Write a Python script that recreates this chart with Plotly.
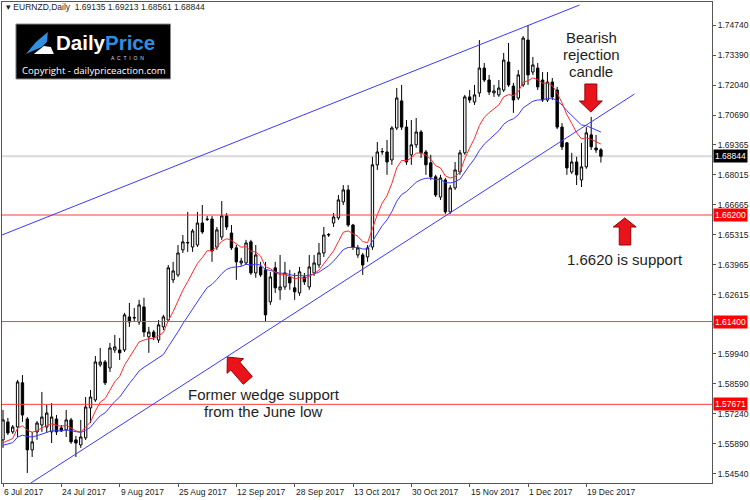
import plotly.graph_objects as go

# ---------------- data (EURNZD daily) ----------------
bars = list(range(124))
opens = [1.5607,1.5688,1.5643,1.5665,1.5864,1.5701,1.5562,1.5643,1.5674,1.5665,
         1.5643,1.5701,1.5661,1.5652,1.5697,1.5607,1.5584,1.5616,1.5751,1.5787,
         1.5945,1.5958,1.5931,1.6012,1.6012,1.6012,1.6161,1.6156,1.6138,1.6206,
         1.6071,1.6093,1.6057,1.6116,1.6147,1.6328,1.6350,1.6463,1.6494,1.6476,
         1.6485,1.6584,1.6602,1.6602,1.6476,1.6521,1.6616,1.6539,1.6472,1.6404,
         1.6404,1.6499,1.6359,1.6386,1.6373,1.6229,1.6382,1.6283,1.6296,1.6341,
         1.6292,1.6269,1.6341,1.6296,1.6359,1.6395,1.6449,1.6530,1.6584,1.6607,
         1.6679,1.6733,1.6575,1.6440,1.6440,1.6431,1.6476,1.6846,1.6904,1.6904,
         1.6868,1.7012,1.7134,1.7016,1.6891,1.6936,1.6994,1.6904,1.6855,1.6792,
         1.6701,1.6778,1.6634,1.6742,1.6814,1.6900,1.7152,1.7129,1.7170,1.7282,
         1.7228,1.7170,1.7161,1.7183,1.7309,1.7201,1.7147,1.7206,1.7408,1.7264,
         1.7282,1.7228,1.7138,1.7219,1.7183,1.7016,1.6945,1.6814,1.6859,1.6778,
         1.6837,1.6981,1.6922,1.69135]
highs = [1.5742,1.5706,1.5674,1.5877,1.5899,1.5710,1.5643,1.5692,1.5823,1.5764,
         1.5773,1.5719,1.5674,1.5742,1.5706,1.5625,1.5697,1.5800,1.5832,1.5985,
         1.6021,1.5967,1.6044,1.6080,1.6066,1.6179,1.6224,1.6201,1.6238,1.6247,
         1.6116,1.6102,1.6147,1.6170,1.6395,1.6409,1.6485,1.6530,1.6634,1.6557,
         1.6634,1.6665,1.6616,1.6616,1.6566,1.6683,1.6629,1.6575,1.6485,1.6427,
         1.6508,1.6508,1.6485,1.6409,1.6409,1.6364,1.6409,1.6440,1.6409,1.6373,
         1.6359,1.6386,1.6359,1.6440,1.6440,1.6494,1.6566,1.6539,1.6629,1.6710,
         1.6755,1.6755,1.6580,1.6485,1.6449,1.6485,1.6882,1.6949,1.6922,1.6958,
         1.7020,1.7192,1.7206,1.7048,1.7048,1.7057,1.7003,1.6913,1.6891,1.6801,
         1.6801,1.6787,1.6755,1.6859,1.6913,1.7161,1.7183,1.7206,1.7408,1.7305,
         1.7251,1.7206,1.7228,1.7350,1.7395,1.7215,1.7273,1.7426,1.7476,1.7332,
         1.7305,1.7264,1.7264,1.7237,1.7197,1.7034,1.6949,1.6900,1.6882,1.6945,
         1.7016,1.7062,1.6981,1.69213]
lows = [1.5571,1.5629,1.5634,1.5620,1.5688,1.5458,1.5530,1.5607,1.5643,1.5638,
        1.5593,1.5629,1.5643,1.5620,1.5589,1.5530,1.5571,1.5607,1.5683,1.5778,
        1.5936,1.5854,1.5913,1.5999,1.5967,1.6003,1.6116,1.6138,1.6125,1.6071,
        1.5999,1.6057,1.6044,1.6102,1.6138,1.6314,1.6341,1.6449,1.6454,1.6454,
        1.6476,1.6535,1.6593,1.6409,1.6463,1.6508,1.6553,1.6463,1.6328,1.6391,
        1.6395,1.6350,1.6337,1.6341,1.6138,1.6215,1.6269,1.6238,1.6283,1.6283,
        1.6238,1.6256,1.6305,1.6283,1.6346,1.6382,1.6431,1.6521,1.6566,1.6598,
        1.6665,1.6566,1.6463,1.6427,1.6350,1.6409,1.6463,1.6823,1.6891,1.6801,
        1.6846,1.7003,1.7003,1.6846,1.6846,1.6922,1.6877,1.6801,1.6778,1.6701,
        1.6688,1.6625,1.6625,1.6733,1.6801,1.6891,1.7125,1.7116,1.7152,1.7219,
        1.7161,1.7152,1.7152,1.7174,1.7197,1.7080,1.7138,1.7197,1.7206,1.7251,
        1.7183,1.7129,1.7129,1.7138,1.7007,1.6913,1.6801,1.6805,1.6755,1.6746,
        1.6828,1.6913,1.6900,1.68561]
closes = [1.5697,1.5638,1.5665,1.5868,1.5719,1.5562,1.5598,1.5683,1.5710,1.5728,
          1.5710,1.5643,1.5647,1.5697,1.5598,1.5593,1.5620,1.5755,1.5800,1.5958,
          1.5958,1.5864,1.6021,1.6026,1.5999,1.6170,1.6138,1.6158,1.6215,1.6093,
          1.6093,1.6071,1.6125,1.6161,1.6382,1.6368,1.6449,1.6499,1.6496,1.6548,
          1.6584,1.6544,1.6600,1.6458,1.6553,1.6616,1.6566,1.6472,1.6409,1.6413,
          1.6494,1.6359,1.6440,1.6350,1.6170,1.6341,1.6292,1.6296,1.6359,1.6314,
          1.6274,1.6364,1.6319,1.6386,1.6404,1.6449,1.6530,1.6532,1.6611,1.6688,
          1.6733,1.6575,1.6476,1.6472,1.6395,1.6472,1.6846,1.6904,1.6906,1.6859,
          1.7012,1.7147,1.7016,1.6859,1.6936,1.6994,1.6900,1.6846,1.6792,1.6710,
          1.6787,1.6634,1.6742,1.6823,1.6900,1.7152,1.7138,1.7161,1.7282,1.7228,
          1.7174,1.7179,1.7192,1.7318,1.7206,1.7138,1.7251,1.7417,1.7251,1.7296,
          1.7197,1.7138,1.7219,1.7152,1.7016,1.6927,1.6832,1.6859,1.6801,1.6837,
          1.6990,1.6927,1.6913,1.68844]

date_tick_bars = [0, 12, 24, 36, 48, 60, 72, 84, 96, 108, 120]
date_tick_labels = ["6 Jul 2017", "24 Jul 2017", "9 Aug 2017", "25 Aug 2017", "12 Sep 2017",
                    "28 Sep 2017", "13 Oct 2017", "30 Oct 2017", "15 Nov 2017", "1 Dec 2017",
                    "19 Dec 2017"]
price_ticks = [1.74740, 1.73390, 1.72040, 1.70690, 1.69365, 1.68015, 1.66665, 1.65315,
               1.63965, 1.62615, 1.61265, 1.59940, 1.58590, 1.57240, 1.55890, 1.54540]
hidden_ticks = [1.61265]   # covered by the 1.61400 level box

support_levels = [1.66200, 1.61400, 1.57671]
last_price = 1.68844
ema_fast_period, ema_slow_period = 10, 21
ema_seed = 1.5571          # indicator level at the left edge of the chart

# wedge trend lines (bar index, price)
upper_line = ([-0.2, 118.6], [1.6530, 1.7566])
lower_line = ([5.74, 129.9], [1.5413, 1.7165])


def ema(values, period, seed):
    k = 2.0 / (period + 1)
    out, prev = [], seed
    for v in values:
        prev = prev + k * (v - prev)
        out.append(prev)
    return out


ema_fast = ema(closes, ema_fast_period, ema_seed)
ema_slow = ema(closes, ema_slow_period, ema_seed)

# ---------------- figure ----------------
W, H = 750, 500
ML, MR, MT, MB = 1, 37, 2, 17
PW, PH = W - ML - MR, H - MT - MB


def px(x, y):
    """page pixel -> paper fraction (for decorations only)"""
    return (x - ML) / PW, 1 - (y - MT) / PH


def path_from(points):
    pts = [px(x, y) for x, y in points]
    return "M " + " L ".join(f"{a:.5f},{b:.5f}" for a, b in pts) + " Z"


FONT = "Liberation Sans"
fig = go.Figure()

fig.add_trace(go.Candlestick(
    x=bars, open=opens, high=highs, low=lows, close=closes,
    increasing=dict(line=dict(color="black", width=1), fillcolor="white"),
    decreasing=dict(line=dict(color="black", width=1), fillcolor="black"),
    whiskerwidth=0, showlegend=False, hoverinfo="skip"))

fig.add_trace(go.Scatter(x=bars, y=ema_slow, mode="lines",
                         line=dict(color="#3a3aff", width=1), showlegend=False, hoverinfo="skip"))
fig.add_trace(go.Scatter(x=bars, y=ema_fast, mode="lines",
                         line=dict(color="#ff2a2a", width=1), showlegend=False, hoverinfo="skip"))

shapes = []
# current price line
shapes.append(dict(type="line", xref="paper", x0=0, x1=1, yref="y", y0=last_price, y1=last_price,
                   line=dict(color="#d9d9d9", width=2), layer="below"))
# support lines
for lv in support_levels:
    shapes.append(dict(type="line", xref="paper", x0=0, x1=1, yref="y", y0=lv, y1=lv,
                       line=dict(color="#ff3c3c", width=1)))
# trend lines
for xs, ys in (upper_line, lower_line):
    shapes.append(dict(type="line", xref="x", yref="y", x0=xs[0], x1=xs[1], y0=ys[0], y1=ys[1],
                       line=dict(color="#3a3aff", width=1)))

# red block arrows
arrow_style = dict(type="path", xref="paper", yref="paper", fillcolor="#e8131b",
                   line=dict(color="#9a0000", width=1))
down_arrow = [(585.5, 84), (597.5, 84), (597.5, 101), (603, 101), (591.5, 112), (580, 101), (585.5, 101)]
up_arrow = [(620, 245), (631.5, 245), (631.5, 227), (637, 227), (625.5, 218), (614, 227), (620, 227)]
diag_arrow = [(252, 376.5), (239.4, 362), (243.2, 358.7), (227, 357), (226.7, 373.3),
              (230.4, 370), (243, 384.3)]
for pts in (down_arrow, up_arrow, diag_arrow):
    shapes.append(dict(arrow_style, path=path_from(pts)))

# logo box
x0, y0 = px(15, 24)
x1, y1 = px(170, 79)
shapes.append(dict(type="rect", xref="paper", yref="paper", x0=x0, y0=y0, x1=x1, y1=y1,
                   fillcolor="black", line=dict(color="#8a8a8a", width=1)))
# logo swoosh
shapes.append(dict(type="path", xref="paper", yref="paper", fillcolor="#2f8fe0", line=dict(width=0),
                   path=path_from([(25, 54), (35, 42), (47, 32), (46, 42), (41, 47), (34, 50)])))
shapes.append(dict(type="path", xref="paper", yref="paper", fillcolor="#ffffff", line=dict(width=0),
                   path=path_from([(33, 54), (43, 46), (50, 47), (53, 54)])))

annotations = []


def ann(x, y, text, size, color="#1e1e1e", xanchor="center", family=FONT, yanchor="middle", **kw):
    ax, ay = px(x, y)
    annotations.append(dict(xref="paper", yref="paper", x=ax, y=ay, text=text, showarrow=False,
                            xanchor=xanchor, yanchor=yanchor,
                            font=dict(family=family, size=size, color=color), **kw))


# header
ann(3, 7, "▾ EURNZD,Daily&nbsp;&nbsp;1.69135 1.69213 1.68561 1.68844", 8.5, "#222", "left")
# logo texts
ann(54, 55, "<b>Daily<span style='color:#2f8fe0'>Price</span></b>", 20.5, "white", "left",
    yanchor="bottom", borderpad=0)
ann(109, 58.5, "A&nbsp;&nbsp;C&nbsp;&nbsp;T&nbsp;&nbsp;I&nbsp;&nbsp;O&nbsp;&nbsp;N", 5, "#dddddd", "left",
    borderpad=0)
ann(93, 71, "Copyright - dailypriceaction.com", 9.6, "white", "center", "Open Sans")

# callouts
for txt, y in (("Bearish", 37.5), ("rejection", 54.5), ("candle", 71.5)):
    ann(592, y, txt, 15)
ann(625.5, 259, "1.6620 is support", 15)
ann(263.5, 394, "Former wedge support", 15)
ann(263, 411, "from the June low", 15)

# date labels (left aligned at their tick)
for b, lab in zip(date_tick_bars, date_tick_labels):
    annotations.append(dict(xref="x", yref="paper", x=b, y=0, text=lab, showarrow=False,
                            xanchor="left", yanchor="top", yshift=-2, xshift=-1,
                            font=dict(family=FONT, size=8.5, color="#222")))

# right-axis price boxes
for lv, bg in [(support_levels[0], "#ff0000"), (support_levels[1], "#ff0000"),
               (support_levels[2], "#ff0000"), (last_price, "#000000")]:
    annotations.append(dict(xref="paper", yref="y", x=1, y=lv, text=f"{lv:.5f}", showarrow=False,
                            xanchor="left", yanchor="middle", xshift=1, bgcolor=bg, borderpad=1,
                            font=dict(family=FONT, size=8.5, color="white")))

fig.update_layout(
    width=W, height=H, margin=dict(l=ML, r=MR, t=MT, b=MB),
    paper_bgcolor="white", plot_bgcolor="white",
    shapes=shapes, annotations=annotations, showlegend=False,
    xaxis=dict(range=[-0.205, 145.85], showgrid=False, zeroline=False,
               showline=True, linecolor="#555", linewidth=1, mirror=True,
               ticks="outside", ticklen=3, tickcolor="#555",
               tickvals=date_tick_bars, showticklabels=False,
               rangeslider=dict(visible=False), fixedrange=True),
    yaxis=dict(side="right", range=[1.54128, 1.75795], showgrid=False, zeroline=False,
               showline=True, linecolor="#555", linewidth=1, mirror=True,
               ticks="outside", ticklen=3, tickcolor="#555",
               tickvals=price_ticks,
               ticktext=["" if v in hidden_ticks else f"{v:.5f}" for v in price_ticks],
               tickfont=dict(family=FONT, size=8.5, color="#222"), fixedrange=True),
)

fig.write_html("out.html")
